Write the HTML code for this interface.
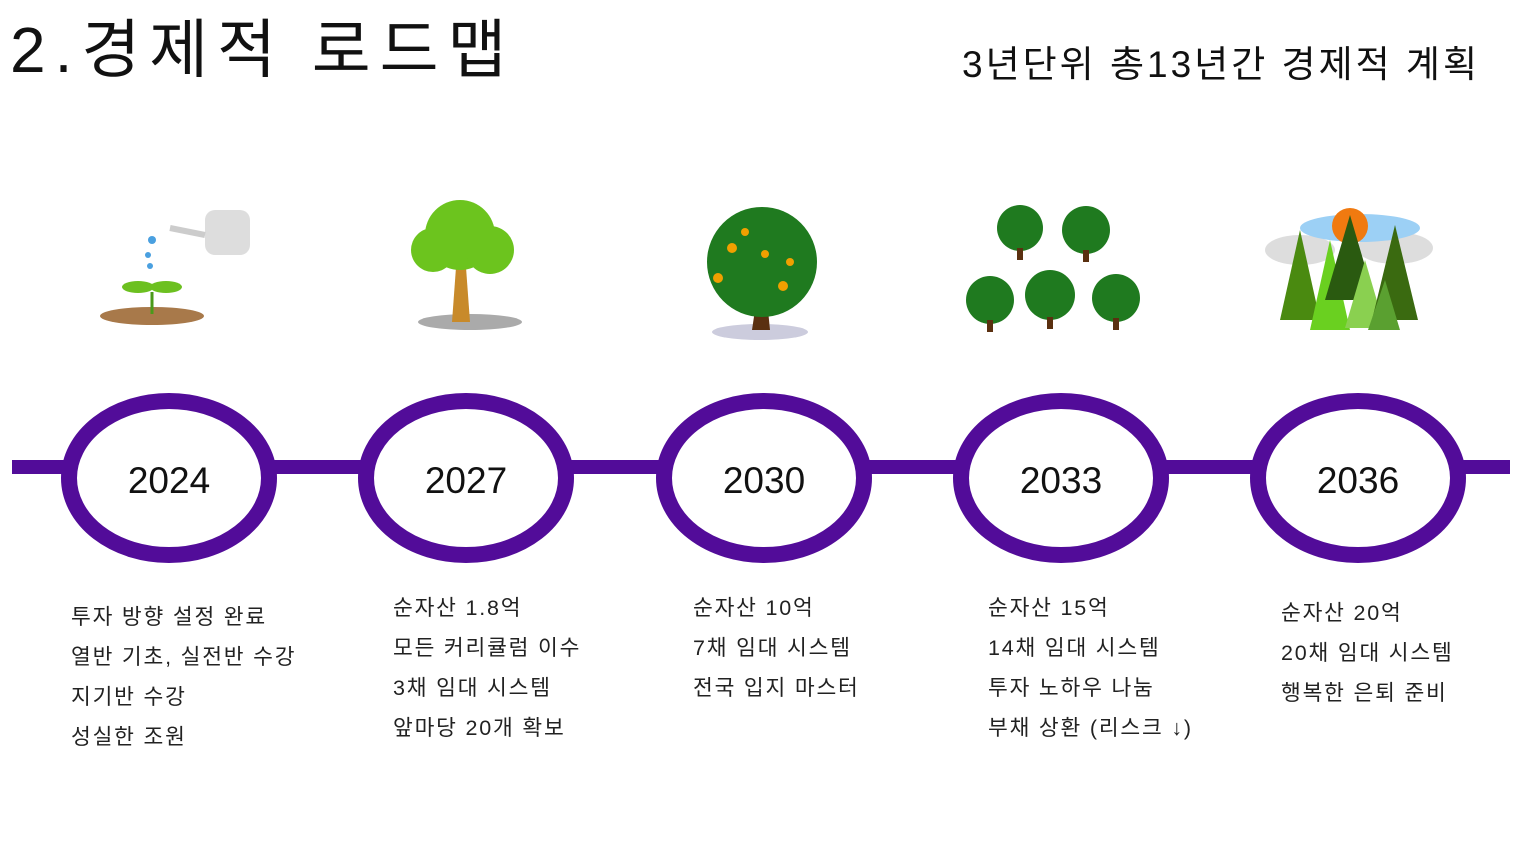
<!DOCTYPE html>
<html><head><meta charset="utf-8"><style>
body{margin:0;width:1520px;height:855px;background:#fff;overflow:hidden;position:relative;font-family:"Liberation Sans","Noto Sans CJK KR",sans-serif;color:#111}
.t{position:absolute;white-space:nowrap}
.l{position:absolute;font-size:21.5px;line-height:40px;white-space:nowrap;color:#222;letter-spacing:1.8px}
</style></head><body>
<div class="t" style="left:10px;top:8px;font-size:64px;line-height:84px;letter-spacing:9px">2.경제적 로드맵</div>
<div class="t" style="left:962px;top:40px;font-size:37px;line-height:50px;letter-spacing:3px">3년단위 총13년간 경제적 계획</div>
<svg width="1520" height="855" style="position:absolute;left:0;top:0">
<rect x="12" y="460" width="1498" height="14" fill="#520c99"/>
<g fill="#fff" stroke="#520c99" stroke-width="16">
<ellipse cx="169" cy="478" rx="100" ry="77"/>
<ellipse cx="466" cy="478" rx="100" ry="77"/>
<ellipse cx="764" cy="478" rx="100" ry="77"/>
<ellipse cx="1061" cy="478" rx="100" ry="77"/>
<ellipse cx="1358" cy="478" rx="100" ry="77"/>
</g>
<g font-size="37" text-anchor="middle" fill="#111" font-family="Liberation Sans, sans-serif">
<text x="169" y="493">2024</text><text x="466" y="493">2027</text><text x="764" y="493">2030</text><text x="1061" y="493">2033</text><text x="1358" y="493">2036</text>
</g>
<ellipse cx="152" cy="316" rx="52" ry="9" fill="#a8794a"/>
<path d="M152 314 V292" stroke="#4a9a1a" stroke-width="3"/>
<ellipse cx="138" cy="287" rx="16" ry="6" fill="#6cc020"/><ellipse cx="166" cy="287" rx="16" ry="6" fill="#6cc020"/>
<rect x="205" y="210" width="45" height="45" rx="10" fill="#ddd"/><path d="M205 235 L170 228" stroke="#ccc" stroke-width="6"/>
<circle cx="152" cy="240" r="4" fill="#4aa0e0"/><circle cx="148" cy="255" r="3" fill="#4aa0e0"/><circle cx="150" cy="266" r="3" fill="#4aa0e0"/>
<ellipse cx="470" cy="322" rx="52" ry="8" fill="#aaa"/>
<path d="M452 322 L458 240 L464 240 L470 322Z" fill="#c88a2a"/>
<circle cx="460" cy="235" r="35" fill="#6cc41e"/><circle cx="433" cy="250" r="22" fill="#6cc41e"/><circle cx="490" cy="250" r="24" fill="#6cc41e"/>
<ellipse cx="760" cy="332" rx="48" ry="8" fill="#ccd"/>
<path d="M752 330 L758 290 L766 290 L770 330Z" fill="#5a3010"/>
<circle cx="762" cy="262" r="55" fill="#1f7a1f"/>
<g fill="#f0a000"><circle cx="732" cy="248" r="5"/><circle cx="765" cy="254" r="4"/><circle cx="790" cy="262" r="4"/><circle cx="718" cy="278" r="5"/><circle cx="783" cy="286" r="5"/><circle cx="745" cy="232" r="4"/></g>
<g>
<circle cx="1020" cy="228" r="23" fill="#1f7a1f"/><circle cx="1086" cy="230" r="24" fill="#1f7a1f"/>
<circle cx="990" cy="300" r="24" fill="#1f7a1f"/><circle cx="1050" cy="295" r="25" fill="#1f7a1f"/><circle cx="1116" cy="298" r="24" fill="#1f7a1f"/>
<g fill="#5a3010"><rect x="1017" y="248" width="6" height="12"/><rect x="1083" y="250" width="6" height="12"/><rect x="987" y="320" width="6" height="12"/><rect x="1047" y="317" width="6" height="12"/><rect x="1113" y="318" width="6" height="12"/></g>
</g>
<ellipse cx="1300" cy="250" rx="35" ry="15" fill="#ddd"/><ellipse cx="1395" cy="248" rx="38" ry="16" fill="#ddd"/>
<ellipse cx="1360" cy="228" rx="60" ry="14" fill="#9cd0f5"/>
<circle cx="1350" cy="226" r="18" fill="#f07a10"/>
<g><polygon points="1300,230 1280,320 1320,320" fill="#4a8a10"/><polygon points="1330,240 1310,330 1350,330" fill="#6ad020"/><polygon points="1350,215 1325,300 1375,300" fill="#2a5a10"/><polygon points="1365,260 1345,328 1385,328" fill="#8ad050"/><polygon points="1395,225 1372,320 1418,320" fill="#3a6a10"/><polygon points="1385,280 1368,330 1400,330" fill="#5aa030"/></g>
</svg>
<div class="l" style="left:71px;top:597px">투자 방향 설정 완료<br>열반 기초, 실전반 수강<br>지기반 수강<br>성실한 조원</div>
<div class="l" style="left:393px;top:588px">순자산 1.8억<br>모든 커리큘럼 이수<br>3채 임대 시스템<br>앞마당 20개 확보</div>
<div class="l" style="left:693px;top:588px">순자산 10억<br>7채 임대 시스템<br>전국 입지 마스터</div>
<div class="l" style="left:988px;top:588px">순자산 15억<br>14채 임대 시스템<br>투자 노하우 나눔<br>부채 상환 (리스크 ↓)</div>
<div class="l" style="left:1281px;top:593px">순자산 20억<br>20채 임대 시스템<br>행복한 은퇴 준비</div>
</body></html>
